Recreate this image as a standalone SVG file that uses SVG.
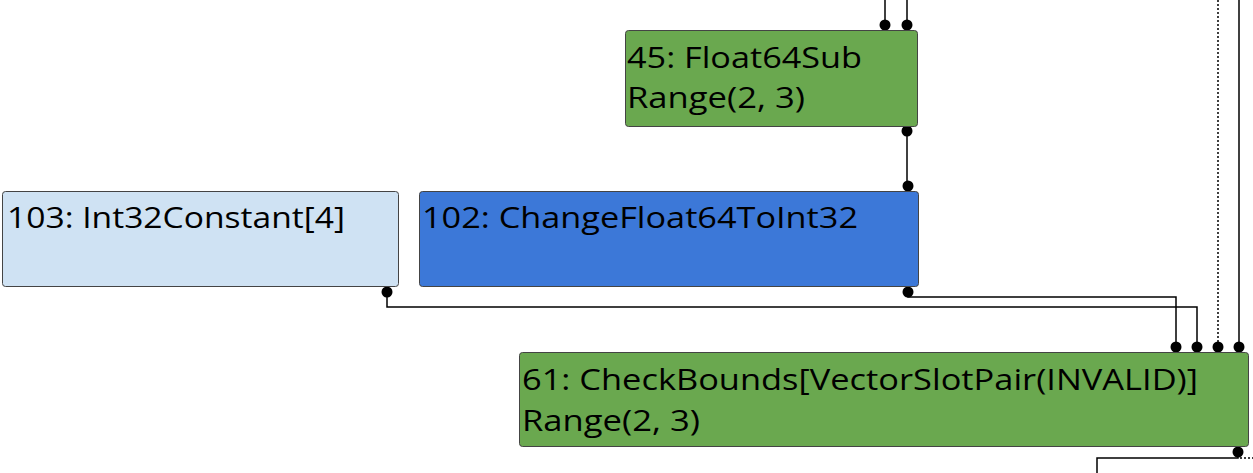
<svg xmlns="http://www.w3.org/2000/svg" width="1253" height="473" viewBox="0 0 1253 473">
<defs>
<style>
.node rect{stroke:#444;stroke-width:1}
.g{fill:#6aa84f}
.b{fill:#3c78d8}
.lb{fill:#cfe2f3}
text{font-family:"Open Sans","Liberation Sans",sans-serif;font-size:30px;fill:#000}
.e{fill:none;stroke:#000;stroke-width:1.5}
.d{stroke-dasharray:2,2}
.dot{fill:#000}
</style>
</defs>
<rect width="1253" height="473" fill="#fff"/>
<g id="connectors">
<path class="e" d="M885 0V22"/>
<path class="e" d="M907 0V22"/>
<path class="e" d="M907 131V183"/>
<path class="e" d="M908 292V297H1176V345"/>
<path class="e" d="M387 292V307H1197V345"/>
<path class="e d" d="M1218 0V345"/>
<path class="e" d="M1239 0V345"/>
<path class="e" d="M1238 452V458H1097V473"/>
<path class="e d" d="M1240 458H1253"/>
<circle class="dot" cx="885" cy="25" r="5.5"/>
<circle class="dot" cx="907" cy="25" r="5.5"/>
<circle class="dot" cx="907" cy="131" r="5.5"/>
<circle class="dot" cx="908" cy="186" r="5.5"/>
<circle class="dot" cx="387" cy="292" r="5.5"/>
<circle class="dot" cx="908" cy="292" r="5.5"/>
<circle class="dot" cx="1176" cy="347" r="5.5"/>
<circle class="dot" cx="1197" cy="347" r="5.5"/>
<circle class="dot" cx="1218" cy="347" r="5.5"/>
<circle class="dot" cx="1239" cy="347" r="5.5"/>
<circle class="dot" cx="1238" cy="452" r="5.5"/>
</g>
<g id="n45" class="node">
<rect class="g" x="625.5" y="30.5" width="292" height="96" rx="3"/>
<text x="627" y="68" textLength="235" lengthAdjust="spacingAndGlyphs">45: Float64Sub</text>
<text x="627" y="108" textLength="178" lengthAdjust="spacingAndGlyphs">Range(2, 3)</text>
</g>
<g id="n103" class="node">
<rect class="lb" x="2.5" y="191.5" width="396" height="95" rx="3"/>
<text x="7" y="228" textLength="338" lengthAdjust="spacingAndGlyphs">103: Int32Constant[4]</text>
</g>
<g id="n102" class="node">
<rect class="b" x="419.5" y="191.5" width="499" height="95" rx="3"/>
<text x="422" y="228" textLength="436" lengthAdjust="spacingAndGlyphs">102: ChangeFloat64ToInt32</text>
</g>
<g id="n61" class="node">
<rect class="g" x="519.5" y="352.5" width="729" height="94" rx="3"/>
<text x="522" y="390" textLength="676" lengthAdjust="spacingAndGlyphs">61: CheckBounds[VectorSlotPair(INVALID)]</text>
<text x="522" y="431" textLength="178" lengthAdjust="spacingAndGlyphs">Range(2, 3)</text>
</g>
</svg>
